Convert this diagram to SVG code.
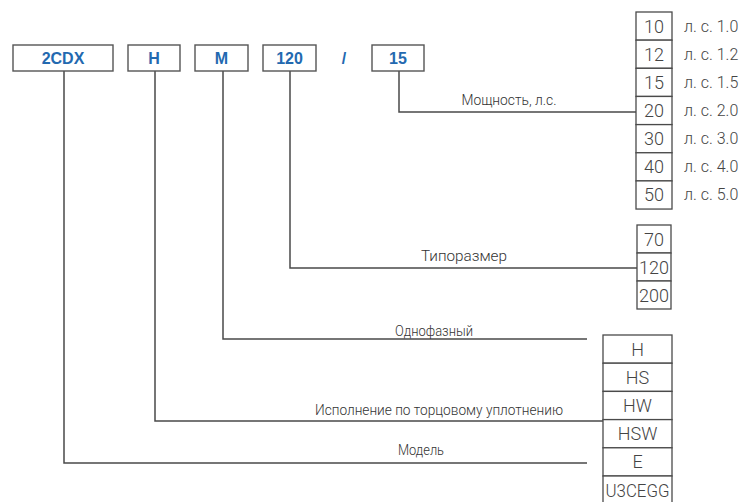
<svg xmlns="http://www.w3.org/2000/svg" width="739" height="502" viewBox="0 0 739 502">
<style>
.box{fill:#fff;stroke:#555;stroke-width:1.4}
.code{font-family:"Liberation Sans",Arial,sans-serif;font-weight:bold;font-size:16px;fill:#2369b0;text-anchor:middle}
.cell{fill:#fff;stroke:#4a4a4a;stroke-width:1.3}
.val{font-family:Roboto,"Liberation Sans",sans-serif;font-weight:300;font-size:18px;fill:#444;text-anchor:middle}
.hp{font-family:Roboto,"Liberation Sans",sans-serif;font-weight:300;font-size:16px;fill:#444}
.lbl{font-family:Roboto,"Liberation Sans",sans-serif;font-weight:300;font-size:15px;fill:#333;text-anchor:middle}
.ln{fill:none;stroke:#4a4a4a;stroke-width:1.5}
</style>
<rect width="739" height="502" fill="#fff"/>

<g id="connectors">
<polyline class="ln" points="64,71 64,463 587,463"/>
<polyline class="ln" points="155,71 155,421 603,421"/>
<polyline class="ln" points="223,71 223,339 587,339"/>
<polyline class="ln" points="290,71 290,268 637,268"/>
<polyline class="ln" points="399,71 399,112 636,112"/>
</g>

<g id="node-2cdx"><rect class="box" x="13" y="45" width="100" height="26"/><text class="code" x="63" y="64">2CDX</text></g>
<g id="node-h"><rect class="box" x="128" y="45" width="52" height="26"/><text class="code" x="154" y="64">H</text></g>
<g id="node-m"><rect class="box" x="195" y="45" width="53" height="26"/><text class="code" x="221.5" y="64">M</text></g>
<g id="node-120"><rect class="box" x="263" y="45" width="53" height="26"/><text class="code" x="289.5" y="64">120</text></g>
<g id="node-slash"><text class="code" x="344" y="64">/</text></g>
<g id="node-15"><rect class="box" x="372" y="45" width="52" height="26"/><text class="code" x="398" y="64">15</text></g>

<g id="label-power"><text class="lbl" x="509" y="105" textLength="95" lengthAdjust="spacingAndGlyphs">Мощность, л.с.</text></g>
<g id="label-size"><text class="lbl" x="464" y="261" textLength="86" lengthAdjust="spacingAndGlyphs">Типоразмер</text></g>
<g id="label-phase"><text class="lbl" x="434" y="336" textLength="78" lengthAdjust="spacingAndGlyphs">Однофазный</text></g>
<g id="label-seal"><text class="lbl" x="439" y="415" textLength="248" lengthAdjust="spacingAndGlyphs">Исполнение по торцовому уплотнению</text></g>
<g id="label-model"><text class="lbl" x="421" y="455" textLength="46" lengthAdjust="spacingAndGlyphs">Модель</text></g>

<g id="table-power">
<rect class="cell" x="636" y="12" width="36" height="28.15"/><text class="val" x="654" y="32.5">10</text><text class="hp" x="684" y="31.5">л. с. 1.0</text>
<rect class="cell" x="636" y="40.15" width="36" height="28.15"/><text class="val" x="654" y="60.6">12</text><text class="hp" x="684" y="59.6">л. с. 1.2</text>
<rect class="cell" x="636" y="68.3" width="36" height="28.15"/><text class="val" x="654" y="88.8">15</text><text class="hp" x="684" y="87.8">л. с. 1.5</text>
<rect class="cell" x="636" y="96.45" width="36" height="28.15"/><text class="val" x="654" y="117">20</text><text class="hp" x="684" y="116">л. с. 2.0</text>
<rect class="cell" x="636" y="124.6" width="36" height="28.15"/><text class="val" x="654" y="145.1">30</text><text class="hp" x="684" y="144.1">л. с. 3.0</text>
<rect class="cell" x="636" y="152.75" width="36" height="28.15"/><text class="val" x="654" y="173.3">40</text><text class="hp" x="684" y="172.3">л. с. 4.0</text>
<rect class="cell" x="636" y="180.9" width="36" height="28.15"/><text class="val" x="654" y="201.4">50</text><text class="hp" x="684" y="200.4">л. с. 5.0</text>
</g>

<g id="table-size">
<rect class="cell" x="637" y="225" width="34" height="28"/><text class="val" x="654" y="245.5">70</text>
<rect class="cell" x="637" y="253" width="34" height="28"/><text class="val" x="654" y="273.5">120</text>
<rect class="cell" x="637" y="281" width="34" height="28"/><text class="val" x="654" y="301.5">200</text>
</g>

<g id="table-model">
<rect class="cell" x="603" y="335" width="69" height="28.2"/><text class="val" x="637.5" y="355.6">H</text>
<rect class="cell" x="603" y="363.2" width="69" height="28.2"/><text class="val" x="637.5" y="383.8">HS</text>
<rect class="cell" x="603" y="391.4" width="69" height="28.2"/><text class="val" x="637.5" y="412">HW</text>
<rect class="cell" x="603" y="419.6" width="69" height="28.2"/><text class="val" x="637.5" y="440.2">HSW</text>
<rect class="cell" x="603" y="447.8" width="69" height="28.2"/><text class="val" x="637.5" y="468.4">E</text>
<rect class="cell" x="603" y="476" width="69" height="28.2"/><text class="val" x="637.5" y="496.6" textLength="64" lengthAdjust="spacingAndGlyphs">U3CEGG</text>
</g>
</svg>
